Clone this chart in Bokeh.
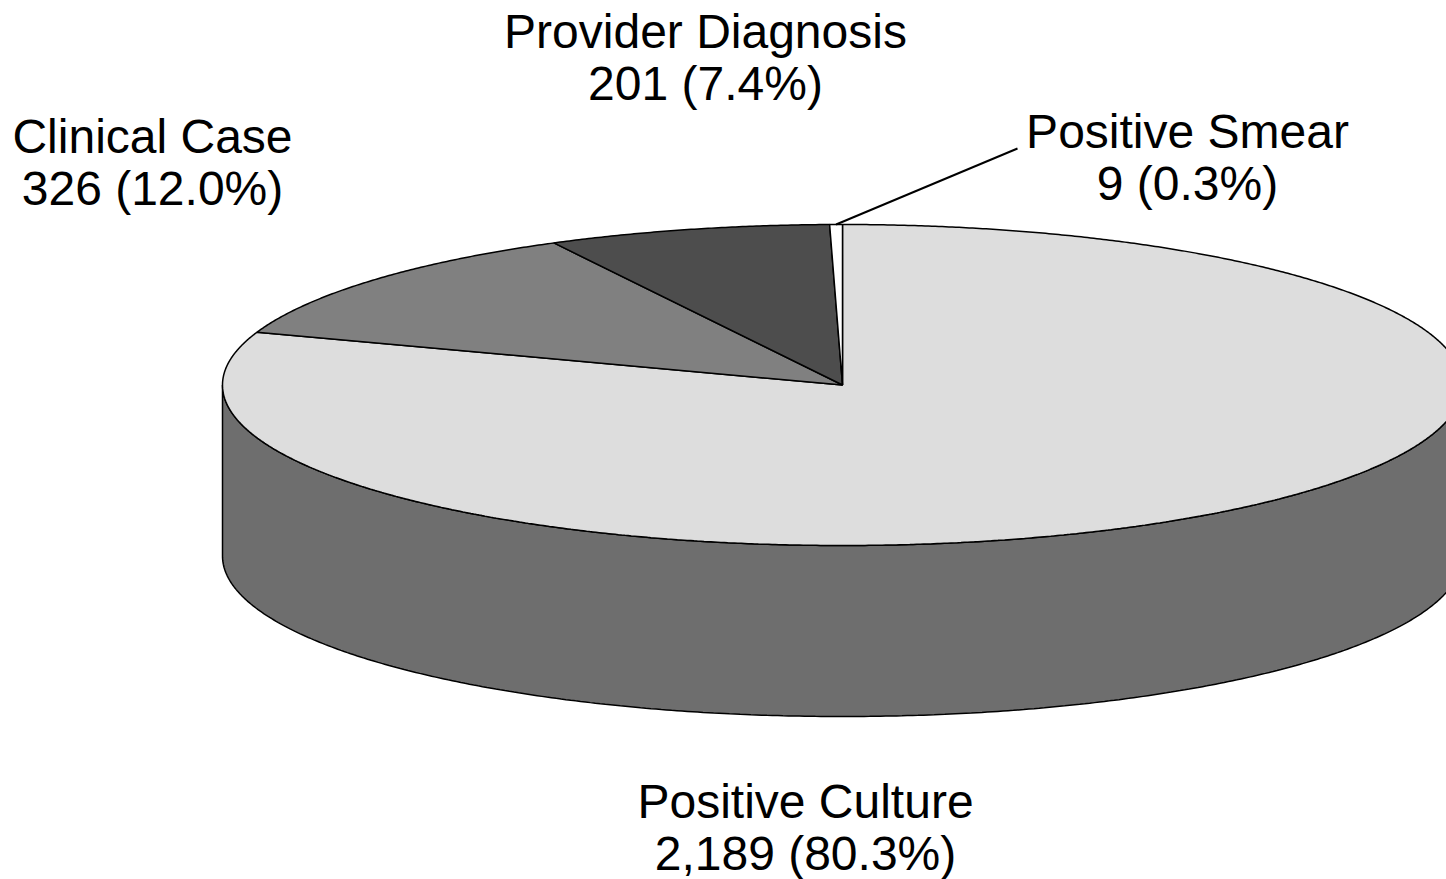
import numpy as np
from bokeh.plotting import figure
from bokeh.models import Range1d
from bokeh.core.properties import value
from bokeh.embed import file_html
from bokeh.resources import INLINE

categories = ["Positive Culture", "Clinical Case", "Provider Diagnosis", "Positive Smear"]
counts = [2189, 326, 201, 9]
count_labels = ["2,189 (80.3%)", "326 (12.0%)", "201 (7.4%)", "9 (0.3%)"]
top_colors = ["#DDDDDD", "#808080", "#4D4D4D", "#FFFFFF"]
side_color = "#6E6E6E"

W, H = 1446, 879
cx, cy, rx, ry, depth = 842.0, 384.5, 620.0, 160.5, 171.0

label_x = [805, 152, 705, 1187]
label_y1 = [801, 136, 31, 131]
label_y2 = [853, 188, 83, 183]

p = figure(width=W, height=H, output_backend="svg", toolbar_location=None,
           x_range=Range1d(0, W), y_range=Range1d(H, 0),
           min_border=0, outline_line_color=None, background_fill_color="white")
p.axis.visible = False
p.grid.visible = False

# side wall: front half of the ellipse, extruded downward
ang = np.linspace(np.pi, 0, 361)
fx = cx + rx * np.cos(ang)
fy = cy + ry * np.sin(ang)
wall_x = np.concatenate([fx, fx[::-1]])
wall_y = np.concatenate([fy, (fy + depth)[::-1]])
p.patch(wall_x, wall_y, fill_color=side_color, line_color="black", line_width=1.5)

# top face wedges, clockwise from 12 o'clock
frac = np.array(counts, dtype=float) / sum(counts)
edges = np.concatenate([[0.0], np.cumsum(frac)]) * 2 * np.pi
for a0, a1, col in zip(edges[:-1], edges[1:], top_colors):
    a = np.linspace(a0, a1, max(3, int((a1 - a0) * 180)))
    xs = np.concatenate([[cx], cx + rx * np.sin(a)])
    ys = np.concatenate([[cy], cy - ry * np.cos(a)])
    p.patch(xs, ys, fill_color=col, line_color="black", line_width=1.5)

# leader line to the smallest slice
mid = (edges[3] + edges[4]) / 2
p.line([cx + rx * np.sin(mid), 1017], [cy - ry * np.cos(mid), 148], line_color="black", line_width=2)

for lx, ly1, ly2, c, l in zip(label_x, label_y1, label_y2, categories, count_labels):
    for yy, s in ((ly1, c), (ly2, l)):
        p.text([lx], [yy], text=[s], text_align="center", text_baseline="middle",
               text_font=value("Liberation Sans"), text_font_size="48px", text_color="black")

open("out.html", "w").write(file_html(p, INLINE))
